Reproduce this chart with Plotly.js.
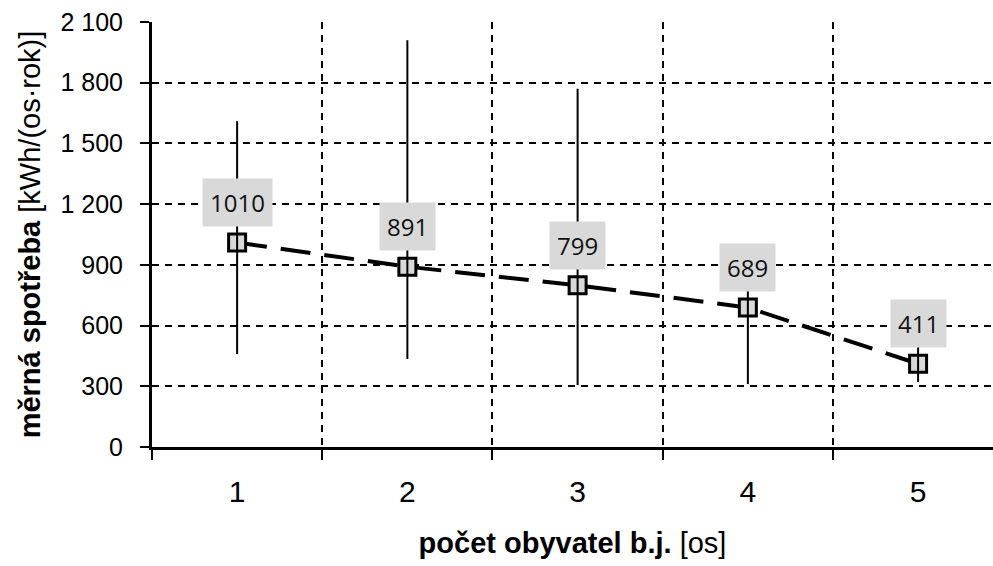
<!DOCTYPE html>
<html><head><meta charset="utf-8">
<script src="https://cdn.plot.ly/plotly-3.0.1.min.js"></script>
<style>html,body{margin:0;padding:0;background:#fff}#chart{width:993px;height:566px}</style>
</head><body><div id="chart"></div>
<script>
const occupants = [1, 2, 3, 4, 5];
const meanUse = [1010, 891, 799, 689, 411];
const maxUse = [1610, 2010, 1770, 1000, 494];
const minUse = [459, 435, 306, 311, 321];
const pointLabels = ['1010', '891', '799', '689', '411'];
const yTickVals = [0, 300, 600, 900, 1200, 1500, 1800, 2100];
const yTickText = ['0', '300', '600', '900', '1 200', '1 500', '1 800', '2 100'];
const xTickVals = [1, 2, 3, 4, 5];
const xTickText = ['1', '2', '3', '4', '5'];
const xGridVals = [0.5, 1.5, 2.5, 3.5, 4.5, 5.5];

const errPlus = maxUse.map((v, i) => v - meanUse[i]);
const errMinus = meanUse.map((v, i) => v - minUse[i]);

const lineTrace = {
  x: occupants, y: meanUse, type: 'scatter', mode: 'lines+markers',
  line: {color: '#000', width: 4, dash: '30px,14px'},
  marker: {symbol: 'square', size: 17, color: '#d9d9d9', line: {color: '#000', width: 3}},
  hoverinfo: 'skip'
};
const errTrace = {
  x: occupants, y: meanUse, type: 'scatter', mode: 'markers',
  marker: {size: 1, color: 'rgba(0,0,0,0)'},
  error_y: {type: 'data', symmetric: false, array: errPlus, arrayminus: errMinus,
            color: '#000', thickness: 2, width: 0},
  hoverinfo: 'skip'
};

const annotations = occupants.map((x, i) => ({
  x: x, y: meanUse[i], xref: 'x', yref: 'y', text: pointLabels[i],
  showarrow: false, yshift: 40, bgcolor: '#d9d9d9', borderpad: 7,
  font: {family: 'Open Sans, sans-serif', size: 24, color: '#111'}
}));

const layout = {
  width: 993, height: 566,
  margin: {l: 152, r: 0, t: 22, b: 119},
  paper_bgcolor: '#fff', plot_bgcolor: '#fff',
  showlegend: false,
  font: {family: 'Liberation Sans, Arial, sans-serif', color: '#000'},
  xaxis: {
    range: [0.5, 5.44], tickmode: 'array', tickvals: xTickVals, ticktext: xTickText,
    ticks: '', showgrid: false, zeroline: false,
    showline: true, linecolor: '#000', linewidth: 3,
    tickfont: {size: 30}, ticklabelstandoff: 16,
    minor: {tickmode: 'array', tickvals: xGridVals, ticks: 'outside', ticklen: 10,
            tickwidth: 2, tickcolor: '#000', showgrid: true, gridcolor: '#000',
            gridwidth: 2, griddash: '7px,6px'},
    title: {text: '<b>počet obyvatel b.j.</b> [os]', font: {size: 29}, standoff: 26}
  },
  yaxis: {
    range: [0, 2100], tickmode: 'array', tickvals: yTickVals, ticktext: yTickText,
    ticks: 'outside', ticklen: 9, tickwidth: 2, tickcolor: '#000',
    showgrid: true, gridcolor: '#000', gridwidth: 2, griddash: '7px,6px',
    zeroline: false, showline: true, linecolor: '#000', linewidth: 3,
    tickfont: {size: 25}, ticklabelstandoff: 12,
    title: {text: '<b>měrná spotřeba</b> [kWh/(os·rok)]', font: {size: 29}, standoff: 12}
  },
  annotations: annotations
};

Plotly.newPlot('chart', [lineTrace, errTrace], layout, {displayModeBar: false, staticPlot: true});
</script>
</body></html>
